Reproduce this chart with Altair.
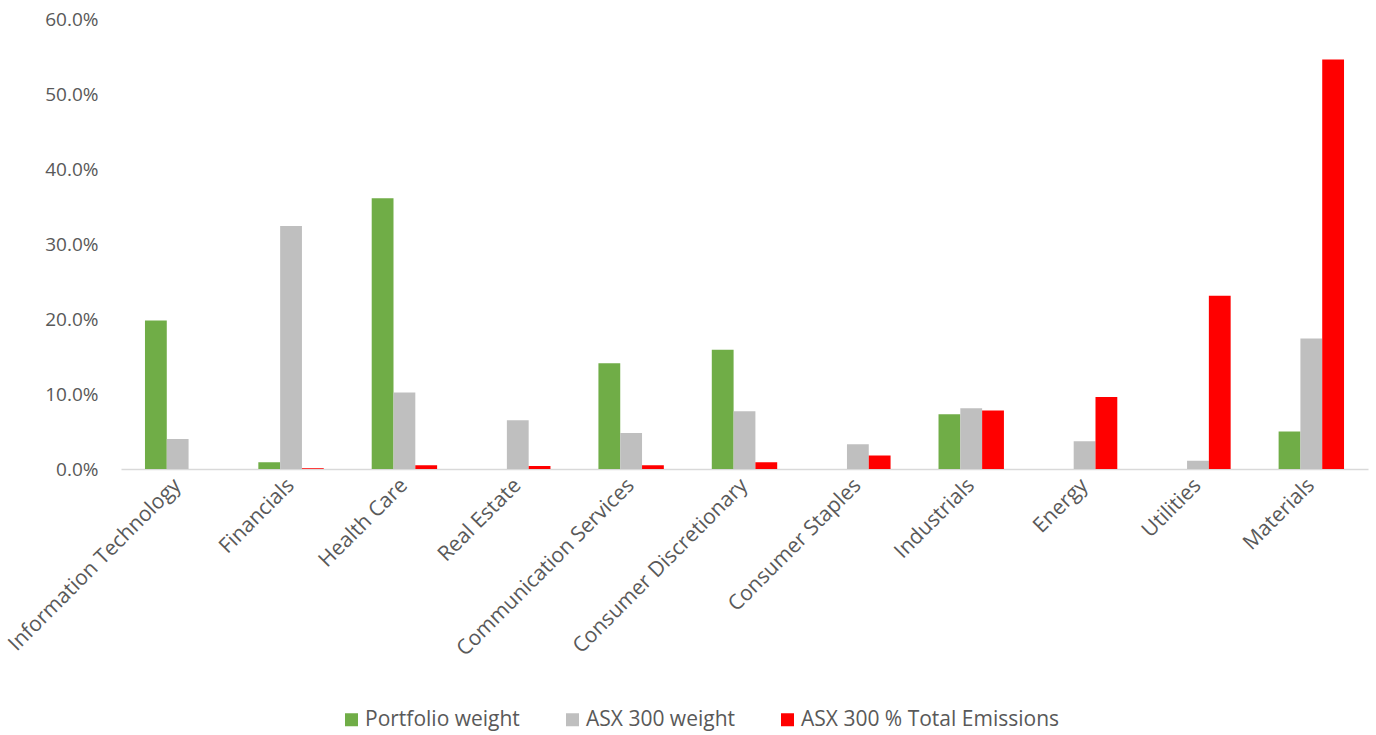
import altair as alt
import pandas as pd

# Sector breakdown: portfolio vs ASX 300 weights and share of ASX 300 emissions (in %)
sectors = [
    "Information Technology", "Financials", "Health Care", "Real Estate",
    "Communication Services", "Consumer Discretionary", "Consumer Staples",
    "Industrials", "Energy", "Utilities", "Materials",
]
portfolio_weight = [19.8, 0.9, 36.1, 0.0, 14.1, 15.9, 0.0, 7.3, 0.0, 0.0, 5.0]
asx300_weight = [4.0, 32.4, 10.2, 6.5, 4.8, 7.7, 3.3, 8.1, 3.7, 1.1, 17.4]
asx300_emissions = [0.0, 0.1, 0.5, 0.4, 0.5, 0.9, 1.8, 7.8, 9.6, 23.1, 54.6]

series_names = ["Portfolio weight", "ASX 300 weight", "ASX 300 % Total Emissions"]
series_colors = ["#70AD47", "#BFBFBF", "#FF0000"]

rows = []
for name, values in zip(series_names, [portfolio_weight, asx300_weight, asx300_emissions]):
    for sector, v in zip(sectors, values):
        rows.append({"sector": sector, "series": name, "value": v})
df = pd.DataFrame(rows)

FONT = "Open Sans"
TEXT = "#595959"

chart = (
    alt.Chart(df)
    .mark_bar()
    .encode(
        x=alt.X(
            "sector:N",
            sort=sectors,
            scale=alt.Scale(paddingInner=0.423, paddingOuter=0.2115),
            axis=alt.Axis(
                title=None,
                labelAngle=-45,
                labelAlign="right",
                labelBaseline="middle",
                labelFont=FONT,
                labelFontSize=21,
                labelColor=TEXT,
                labelPadding=13,
                labelLimit=400,
                ticks=False,
                domainColor="#D9D9D9",
                domainWidth=1.5,
            ),
        ),
        xOffset=alt.XOffset("series:N", sort=series_names),
        y=alt.Y(
            "value:Q",
            scale=alt.Scale(domain=[0, 60], nice=False),
            axis=alt.Axis(
                title=None,
                values=[0, 10, 20, 30, 40, 50, 60],
                labelExpr="format(datum.value, '.1f') + '%'",
                labelFont=FONT,
                labelFontSize=19,
                labelColor=TEXT,
                labelPadding=23,
                ticks=False,
                domain=False,
                grid=False,
            ),
        ),
        color=alt.Color(
            "series:N",
            sort=series_names,
            scale=alt.Scale(domain=series_names, range=series_colors),
            legend=alt.Legend(
                title=None,
                orient="none",
                direction="horizontal",
                legendX=220,
                legendY=690,
                symbolType="square",
                symbolSize=169,
                symbolStrokeWidth=0,
                labelFont=FONT,
                labelFontSize=21,
                labelColor=TEXT,
                labelOffset=3,
                labelLimit=400,
                columnPadding=42,
            ),
        ),
    )
    .properties(
        width=1247,
        height=450,
        autosize=alt.AutoSizeParams(type="none"),
        padding={"left": 121, "top": 19, "right": 8, "bottom": 266},
    )
    .configure_view(stroke=None)
)

chart.save("out.html", embed_options={"renderer": "svg", "actions": False})
